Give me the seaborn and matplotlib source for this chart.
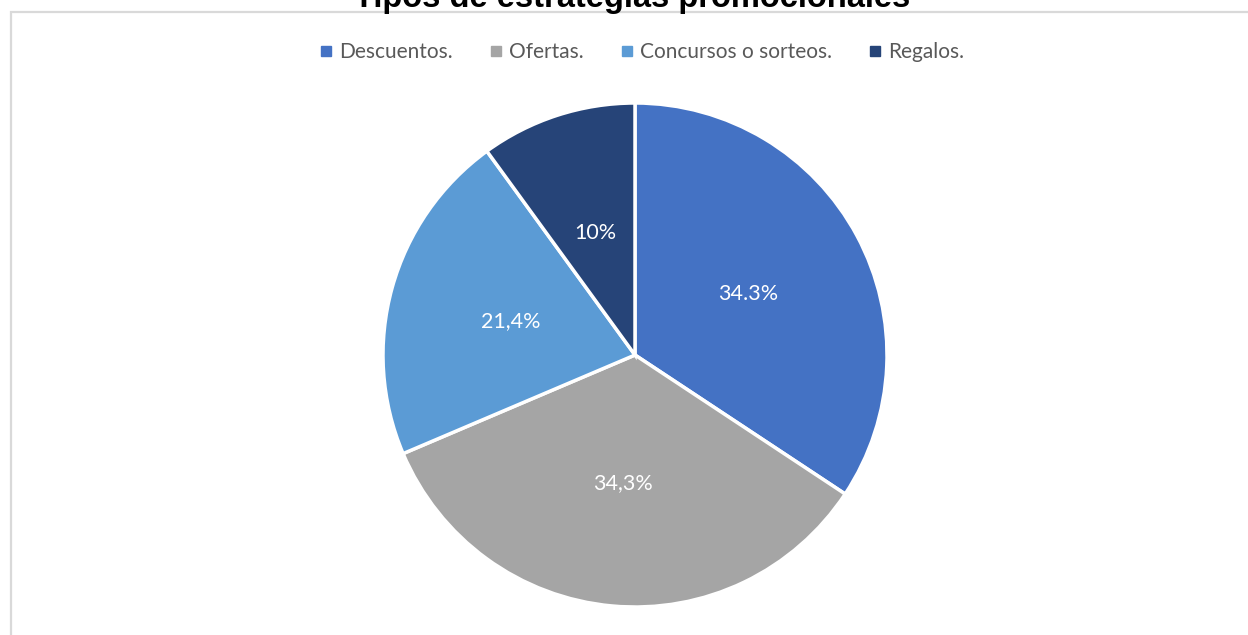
import matplotlib
matplotlib.use("Agg")
import matplotlib.pyplot as plt
from matplotlib.patches import Rectangle
from matplotlib.lines import Line2D
import seaborn as sns

sns.set_theme(style="white")
plt.rcParams["font.family"] = ["Lato", "DejaVu Sans"]

# Data
categories = ["Descuentos.", "Ofertas.", "Concursos o sorteos.", "Regalos."]
shares = [34.3, 34.3, 21.4, 10.0]
value_labels = ["34.3%", "34,3%", "21,4%", "10%"]
colors = ["#4472C4", "#A5A5A5", "#5B9BD5", "#264478"]
title = "Tipos de estrategias promocionales"

W, H, DPI = 1248, 635, 100
fig = plt.figure(figsize=(W / DPI, H / DPI), dpi=DPI)
fig.patch.set_facecolor("white")

# Chart-area frame (runs off the right and bottom edges)
fig.add_artist(Rectangle((10.5 / W, -0.1), 1.2, (H - 11.5) / H + 0.1,
                         transform=fig.transFigure, fill=False,
                         edgecolor="#D9D9D9", linewidth=1.6, zorder=0))

# Pie axes: centre (635, 355) px, radius 252 px
cx, cy, r = 635, 355, 252
ax = fig.add_axes([(cx - r) / W, (H - cy - r) / H, 2 * r / W, 2 * r / H])
wedges, texts = ax.pie(
    shares, labels=value_labels, colors=colors, startangle=90,
    counterclock=False, labeldistance=0.51,
    wedgeprops=dict(edgecolor="white", linewidth=2.5),
    textprops=dict(color="white", fontsize=15.5),
)
for t in texts:
    t.set_ha("center")
    t.set_va("center")
ax.set_xlim(-1, 1)
ax.set_ylim(-1, 1)
ax.set_aspect("equal")
ax.axis("off")

# Legend along the top
handles = [Line2D([0], [0], marker="s", linestyle="none", markersize=6.5,
                  markerfacecolor=c, markeredgecolor=c) for c in colors]
fig.legend(handles, categories, loc="center", ncol=4,
           bbox_to_anchor=(642 / W, 1 - 52 / H), frameon=False,
           fontsize=15, labelcolor="#595959", handlelength=0.6,
           handletextpad=0.35, columnspacing=1.75)

# Title, partly above the top edge
fig.text(632 / W, 1 - 7 / H, title, ha="center", va="baseline",
         fontsize=23.5, fontweight="bold", color="black",
         family=["Liberation Sans", "DejaVu Sans"])

fig.savefig("out.png", dpi=DPI, facecolor="white")
